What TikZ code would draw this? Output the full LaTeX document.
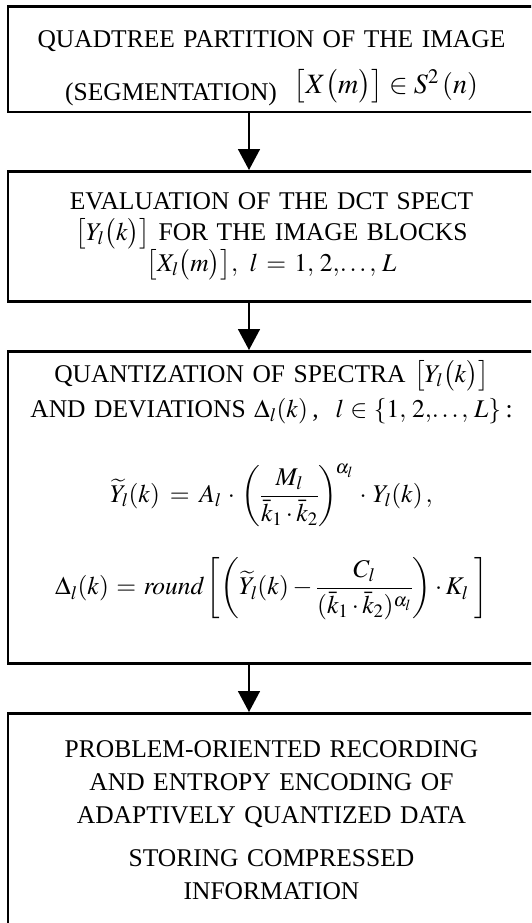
\documentclass[tikz,border=0pt]{standalone}
\usepackage{mathptmx}
\usepackage{amsmath}
\usepackage[no-math]{fontspec}
\setmainfont{Liberation Serif}
\usetikzlibrary{arrows.meta}

\begin{document}
\begin{tikzpicture}[x=1pt,y=-1pt,
  stage/.style={draw,line width=2.6pt,anchor=north,text width=515pt,inner sep=6pt,align=center,font=\fontsize{25.5}{31}\selectfont},
  flow/.style={line width=1.6pt,-{Triangle[width=22pt,length=21pt]}}]
\useasboundingbox (0,0) rectangle (531,923);
\clip (0,0) rectangle (531,923);
\node[stage,minimum height=105pt] (part) at (271.5,5) {\rule{0pt}{35pt}QUADTREE PARTITION OF THE IMAGE\\[17pt]
  (SEGMENTATION)\ \ \raisebox{7pt}{\fontsize{28}{31}\selectfont$\bigl[X\bigl(m\bigr)\bigr]\in S^{2}\,(n)$}};
\node[stage,minimum height=130pt] (spec) at (271.5,170) {EVALUATION OF THE DCT SPECT\\
  $\bigl[Y_{l}\bigl(k\bigr)\bigr]$ FOR THE IMAGE BLOCKS\\
  $\bigl[X_{l}\bigl(m\bigr)\bigr],\ l\!=\!1,\,2,\!\dots,\,L$};
\node[stage,minimum height=312pt] (quant) at (271.5,350) {QUANTIZATION OF SPECTRA $\bigl[Y_{l}\bigl(k\bigr)\bigr]$\\[4pt]
  AND DEVIATIONS $\Delta_{l}(k)$\,,\ \ $l\in\{1,\,2,\!\dots,\,L\}$\,:\\[39pt]
  $\widetilde{Y}_{l}(k)=A_{l}\cdot\left(\dfrac{M_{l}}{\bar{k}_{1}\cdot\bar{k}_{2}}\right)^{\!\alpha_{l}}\cdot Y_{l}(k)\,,$\\[30pt]
  $\Delta_{l}(k)=\mathit{round}\left[\left(\widetilde{Y}_{l}(k)-\dfrac{C_{l}}{(\bar{k}_{1}\cdot\bar{k}_{2})^{\alpha_{l}}}\right)\cdot K_{l}\;\right]$\rule[-59pt]{0pt}{59pt}};
\node[stage,minimum height=214pt,font=\fontsize{25.5}{33}\selectfont] (store) at (271.5,712) {PROBLEM-ORIENTED RECORDING\\
  AND ENTROPY ENCODING OF\\
  ADAPTIVELY QUANTIZED DATA\\[10pt]
  STORING COMPRESSED\\
  INFORMATION};
\coordinate (axis) at (249,0);
\draw[flow] (part.south -| axis) -- (spec.north -| axis);
\draw[flow] (spec.south -| axis) -- (quant.north -| axis);
\draw[flow] (quant.south -| axis) -- (store.north -| axis);
\end{tikzpicture}
\end{document}
